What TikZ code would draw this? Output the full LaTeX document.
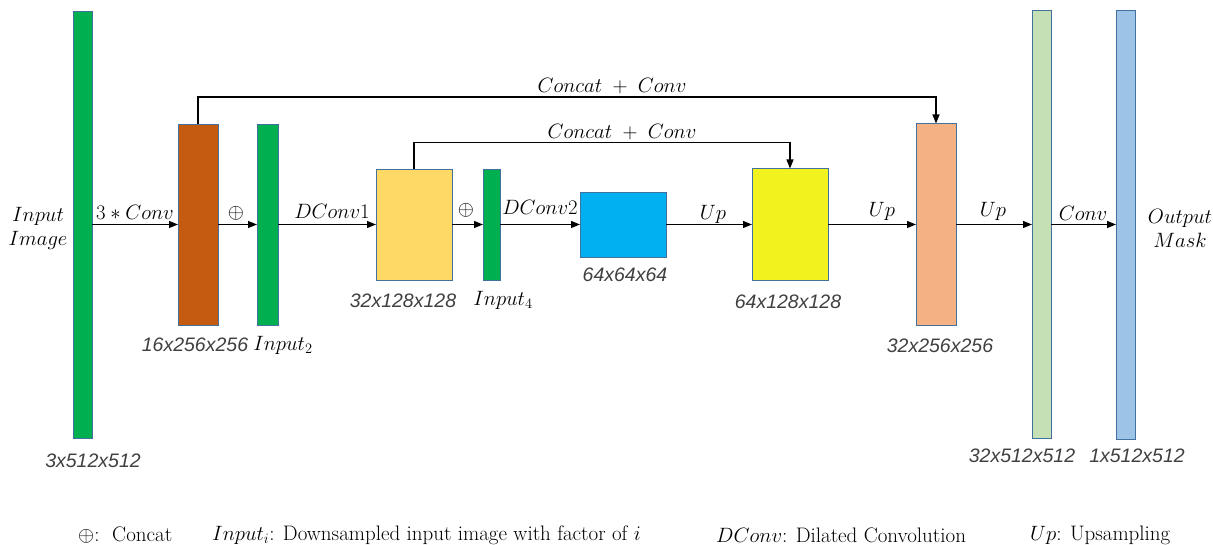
\documentclass[tikz,border=0pt]{standalone}
\usepackage{fontspec}
\newfontfamily\arialfont{Liberation Sans}
\usetikzlibrary{arrows.meta}
\definecolor{cIn}{HTML}{00B050}
\definecolor{cBrown}{HTML}{C55A11}
\definecolor{cYelA}{HTML}{FFD966}
\definecolor{cBlue}{HTML}{00B0F0}
\definecolor{cYelB}{HTML}{F2F21E}
\definecolor{cSalmon}{HTML}{F4B183}
\definecolor{cLGreen}{HTML}{C5E0B4}
\definecolor{cLBlue}{HTML}{9DC3E6}
\definecolor{cEdge}{HTML}{41719C}
\definecolor{cGray}{HTML}{404040}
\begin{document}
\begin{tikzpicture}[x=1pt,y=-1pt,
 blk/.style={draw=cEdge, line width=0.9pt, inner sep=0pt, outer sep=0pt},
 arr/.style={-{Triangle[length=9pt,width=7pt]}, line width=1.1pt},
 mlab/.style={inner sep=0pt, align=center, font=\fontsize{20.5}{24}\selectfont},
 slab/.style={inner sep=0pt, text=cGray, font=\fontsize{19.5}{23}\selectfont\arialfont\itshape},
 leg/.style={inner sep=0pt, anchor=west, font=\fontsize{21}{25}\selectfont}]
\fill[white] (0,0) rectangle (1213,545);
\useasboundingbox (0,0) rectangle (1213,545);
% blocks
\node[blk, fill=cIn,     minimum width=19pt, minimum height=427pt] (in)  at (82.5,224.5) {};
\node[blk, fill=cBrown,  minimum width=40pt, minimum height=201pt] (c1)  at (198,224.5) {};
\node[blk, fill=cIn,     minimum width=21pt, minimum height=201pt] (i2)  at (267.5,224.5) {};
\node[blk, fill=cYelA,   minimum width=76pt, minimum height=111pt] (y1)  at (414,224.5) {};
\node[blk, fill=cIn,     minimum width=17pt, minimum height=111pt] (i4)  at (491.5,224.5) {};
\node[blk, fill=cBlue,   minimum width=86pt, minimum height=65pt]  (bb)  at (623,224.5) {};
\node[blk, fill=cYelB,   minimum width=76pt, minimum height=112pt] (y2)  at (790,224.5) {};
\node[blk, fill=cSalmon, minimum width=40pt, minimum height=202pt] (sa)  at (936,224.5) {};
\node[blk, fill=cLGreen, minimum width=19pt, minimum height=428pt] (lg)  at (1041.5,224.5) {};
\node[blk, fill=cLBlue,  minimum width=19pt, minimum height=429pt] (lb)  at (1125.5,224.5) {};
% arrows
\draw[arr] (in) -- (c1);
\draw[arr] (c1) -- (i2);
\draw[arr] (i2) -- (y1);
\draw[arr] (y1) -- (i4);
\draw[arr] (i4) -- (bb);
\draw[arr] (bb) -- (y2);
\draw[arr] (y2) -- (sa);
\draw[arr] (sa) -- (lg);
\draw[arr] (lg) -- (lb);
% skip connections
\draw[arr] (c1.north) -- ++(0,-27) -| (sa.north);
\draw[arr] (y1.north) -- ++(0,-26.5) -| (y2.north);
% connector labels
\node[mlab] (tInput) at (38,228) {$Input$\\$Image$};
\node[mlab] (t1) at (135,212) {$3 * Conv$};
\node[mlab] (t2) at (236,213) {$\oplus$};
\node[mlab] (t3) at (332,211) {$DConv1$};
\node[mlab] (t4) at (466,210) {$\oplus$};
\node[mlab] (t5) at (540,207) {$DConv2$};
\node[mlab] (t6) at (713,214) {$Up$};
\node[mlab] (t7) at (882,211) {$Up$};
\node[mlab] (t8) at (993,211) {$Up$};
\node[mlab] (t9) at (1083,213) {$Conv$};
\node[mlab] (tOut) at (1180,228) {$Output$\\$Mask$};
\node[mlab] (s1) at (612,86) {$Concat\;+\;Conv$};
\node[mlab] (s2) at (622,132) {$Concat\;+\;Conv$};
% size labels
\node[slab] (d0) at (93,461) {3x512x512};
\node[slab] (d1) at (195,345) {16x256x256};
\node[mlab] (d2) at (283,345) {$Input_2$};
\node[slab] (d3) at (403,301) {32x128x128};
\node[mlab] (d4) at (503,300) {$Input_4$};
\node[slab] (d5) at (625,275) {64x64x64};
\node[slab] (d6) at (788,302) {64x128x128};
\node[slab] (d7) at (940,346) {32x256x256};
\node[slab] (d8) at (1022,456) {32x512x512};
\node[slab] (d9) at (1137,456) {1x512x512};
% legend
\node[leg] (lg1) at (78,535) {$\oplus$:\ \ Concat};
\node[leg] (lg2) at (212,535) {$Input_i$: Downsampled input image with factor of $i$};
\node[leg] (lg3) at (716,535) {$DConv$: Dilated Convolution};
\node[leg] (lg4) at (1030,535) {$Up$: Upsampling};
\end{tikzpicture}
\end{document}
